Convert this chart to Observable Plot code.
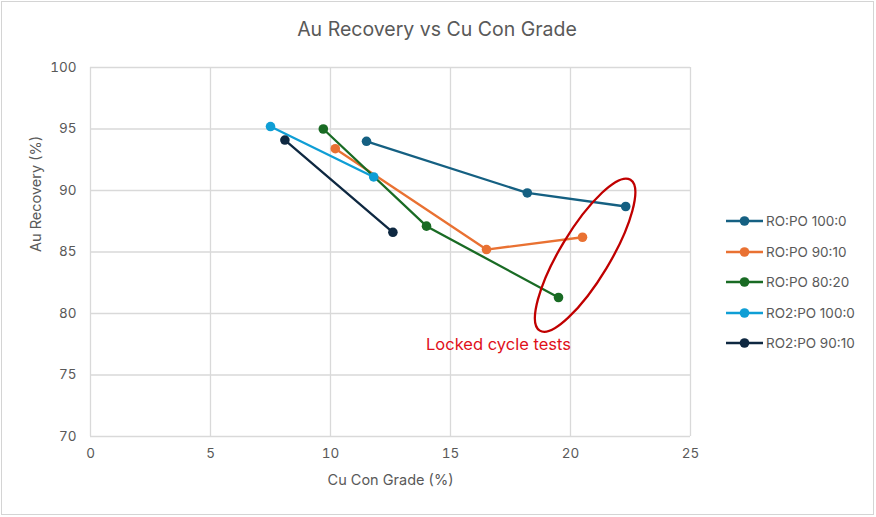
<!DOCTYPE html>
<html><head><meta charset="utf-8">
<script src="https://cdn.jsdelivr.net/npm/d3@7"></script>
<script src="https://cdn.jsdelivr.net/npm/@observablehq/plot@0.6"></script>
<style>
body{margin:0;background:#fff;}
#wrap{position:relative;width:876px;height:517px;overflow:hidden;font-family:Inter,"Open Sans",sans-serif;color:#595959;}
#border{position:absolute;left:1px;top:1px;width:871px;height:512px;border:1px solid #d4d4d4;pointer-events:none;}
#title{position:absolute;left:0;width:874px;text-align:center;top:17px;font-size:19.5px;color:#595959;}
#chart{position:absolute;left:0;top:0;}
#legend{position:absolute;left:726px;top:206px;font-size:13.5px;}
.li{height:30.5px;display:flex;align-items:center;}
.li svg{margin-right:3px;}
</style></head>
<body><div id="wrap"><div id="chart"></div><div id="title">Au Recovery vs Cu Con Grade</div><div id="legend"></div><div id="border"></div></div>
<script>
const seriesNames = ["RO:PO 100:0","RO:PO 90:10","RO:PO 80:20","RO2:PO 100:0","RO2:PO 90:10"];
const seriesColors = ["#156082","#E97132","#196B24","#0F9ED5","#0E2841"];
const grade_RO_100 = [11.5, 18.2, 22.3];
const rec_RO_100   = [94.0, 89.8, 88.7];
const grade_RO_90  = [10.2, 16.5, 20.5];
const rec_RO_90    = [93.4, 85.2, 86.2];
const grade_RO_80  = [9.7, 14.0, 19.5];
const rec_RO_80    = [95.0, 87.1, 81.3];
const grade_RO2_100 = [7.5, 11.8];
const rec_RO2_100   = [95.2, 91.1];
const grade_RO2_90  = [8.1, 12.6];
const rec_RO2_90    = [94.1, 86.6];
const xTicks = [0,5,10,15,20,25];
const yTicks = [70,75,80,85,90,95,100];
const annoText = "Locked cycle tests";
const annoPos = {x: 17.0, y: 77.45};
const ellipse = {x: 20.63, y: 84.7, rx: 88, ry: 25, angle: -59};

const grades = [grade_RO_100, grade_RO_90, grade_RO_80, grade_RO2_100, grade_RO2_90];
const recs = [rec_RO_100, rec_RO_90, rec_RO_80, rec_RO2_100, rec_RO2_90];
const data = [];
seriesNames.forEach((s,i)=>grades[i].forEach((g,j)=>data.push({series:s, grade:g, rec:recs[i][j]})));

const chart = Plot.plot({
  width: 876, height: 517,
  marginLeft: 90, marginRight: 186, marginTop: 67, marginBottom: 81,
  style: {fontFamily: "Inter, 'Open Sans', sans-serif", fontSize: "13px", color: "#595959", background: "transparent"},
  x: {domain: [0,25], ticks: xTicks, tickSize: 0, tickPadding: 12, label: null},
  y: {domain: [70,100], ticks: yTicks, tickSize: 0, tickPadding: 14, label: null},
  color: {domain: seriesNames, range: seriesColors},
  marks: [
    Plot.gridX(xTicks, {stroke: "#d9d9d9", strokeOpacity: 1, strokeWidth: 1.3}),
    Plot.gridY(yTicks, {stroke: "#d9d9d9", strokeOpacity: 1, strokeWidth: 1.3}),
    Plot.axisX({ticks: xTicks, tickSize: 0, tickPadding: 12, fill: "#595959", fontSize: 13.5, label: null}),
    Plot.axisY({ticks: yTicks, tickSize: 0, tickPadding: 14, fill: "#595959", fontSize: 13.5, label: null}),
    Plot.text(["Cu Con Grade (%)"], {frameAnchor: "bottom", dy: 48, fill: "#595959", fontSize: 14.5}),
    Plot.text(["Au Recovery (%)"], {frameAnchor: "left", dx: -54, rotate: -90, fill: "#595959", fontSize: 14.5}),
    Plot.line(data, {x: "grade", y: "rec", z: "series", stroke: "series", strokeWidth: 2.3}),
    Plot.dot(data, {x: "grade", y: "rec", fill: "series", r: 4.8}),
    Plot.text([annoPos], {x: "x", y: "y", text: () => annoText, fill: "#E0101A", fontSize: 16.5}),
    (index, scales) => {
      const cx = scales.x(ellipse.x), cy = scales.y(ellipse.y);
      const el = document.createElementNS("http://www.w3.org/2000/svg", "ellipse");
      el.setAttribute("cx", 0); el.setAttribute("cy", 0);
      el.setAttribute("rx", ellipse.rx); el.setAttribute("ry", ellipse.ry);
      el.setAttribute("transform", `translate(${cx},${cy}) rotate(${ellipse.angle})`);
      el.setAttribute("fill", "none"); el.setAttribute("stroke", "#C00000"); el.setAttribute("stroke-width", 2.3);
      return el;
    }
  ]
});
document.getElementById("chart").appendChild(chart);

const leg = document.getElementById("legend");
seriesNames.forEach((s,i)=>{
  const d = document.createElement("div"); d.className = "li";
  d.innerHTML = `<svg width="37" height="12"><line x1="0" x2="37" y1="6" y2="6" stroke="${seriesColors[i]}" stroke-width="2.3"/><circle cx="18.5" cy="6" r="4.8" fill="${seriesColors[i]}"/></svg><span>${s}</span>`;
  leg.appendChild(d);
});
</script></body></html>
